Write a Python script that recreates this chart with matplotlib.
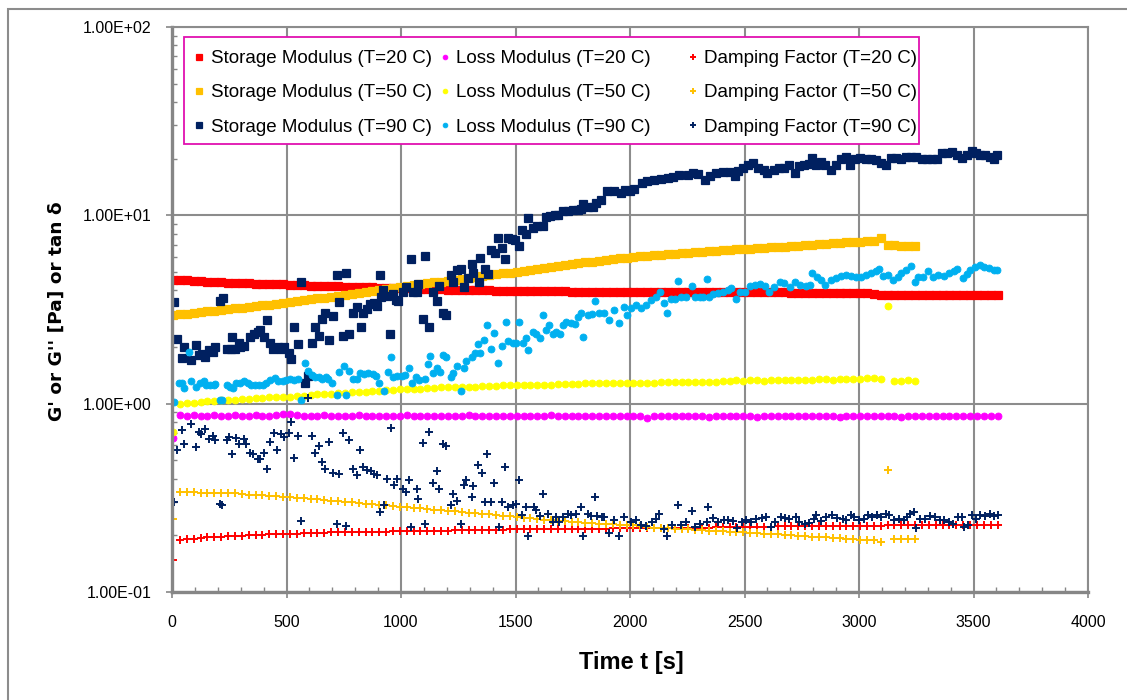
import numpy as np
import matplotlib
matplotlib.use("Agg")
import matplotlib.pyplot as plt
from matplotlib.patches import Rectangle
from matplotlib.ticker import LogLocator, MultipleLocator, NullFormatter

# -----------------------------
# DATA
# -----------------------------
# 20 C and 50 C runs are sampled on a regular clock
t20 = np.arange(5, 3606, 30)
t50 = np.arange(5, 3246, 30)

storage_20 = [
    4.55, 4.53, 4.51, 4.49, 4.46, 4.44, 4.42, 4.40, 4.38, 4.37,
    4.36, 4.35, 4.34, 4.33, 4.32, 4.31, 4.30, 4.28, 4.26, 4.25,
    4.23, 4.22, 4.21, 4.20, 4.19, 4.18, 4.17, 4.16, 4.15, 4.14,
    4.13, 4.12, 4.11, 4.10, 4.09, 4.08, 4.07, 4.06, 4.05, 4.04,
    4.03, 4.02, 4.01, 4.00, 4.00, 3.99, 3.99, 3.98, 3.98, 3.98,
    3.97, 3.97, 3.96, 3.96, 3.96, 3.95, 3.95, 3.95, 3.94, 3.94,
    3.94, 3.94, 3.93, 3.93, 3.93, 3.93, 3.92, 3.92, 3.92, 3.92,
    3.91, 3.91, 3.91, 3.91, 3.91, 3.91, 3.91, 3.90, 3.90, 3.90,
    3.90, 3.90, 3.90, 3.90, 3.90, 3.90, 3.90, 3.90, 3.90, 3.90,
    3.89, 3.89, 3.89, 3.89, 3.89, 3.89, 3.89, 3.89, 3.89, 3.89,
    3.89, 3.89, 3.80, 3.79, 3.79, 3.79, 3.79, 3.79, 3.79, 3.79,
    3.78, 3.78, 3.78, 3.78, 3.78, 3.78, 3.78, 3.78, 3.78, 3.78,
    3.78]

loss_20 = [
    0.66, 0.87, 0.86, 0.87, 0.86, 0.86, 0.87, 0.86, 0.86, 0.87,
    0.86, 0.86, 0.87, 0.86, 0.86, 0.87, 0.88, 0.88, 0.87, 0.86,
    0.86, 0.86, 0.87, 0.86, 0.86, 0.86, 0.86, 0.87, 0.86, 0.86,
    0.86, 0.86, 0.86, 0.86, 0.87, 0.86, 0.86, 0.86, 0.86, 0.86,
    0.86, 0.86, 0.86, 0.87, 0.86, 0.86, 0.86, 0.86, 0.86, 0.86,
    0.86, 0.86, 0.86, 0.86, 0.86, 0.87, 0.86, 0.86, 0.86, 0.86,
    0.86, 0.86, 0.86, 0.86, 0.86, 0.86, 0.86, 0.86, 0.86, 0.84,
    0.86, 0.86, 0.86, 0.86, 0.86, 0.86, 0.86, 0.86, 0.85, 0.86,
    0.86, 0.86, 0.86, 0.86, 0.86, 0.85, 0.86, 0.86, 0.86, 0.86,
    0.86, 0.86, 0.86, 0.86, 0.86, 0.86, 0.86, 0.85, 0.86, 0.86,
    0.86, 0.86, 0.86, 0.86, 0.86, 0.86, 0.85, 0.86, 0.86, 0.86,
    0.86, 0.86, 0.86, 0.86, 0.86, 0.86, 0.86, 0.86, 0.86, 0.86,
    0.86]

damping_20 = [
    0.147, 0.190, 0.191, 0.192, 0.194, 0.195, 0.196, 0.197, 0.198, 0.198,
    0.199, 0.200, 0.201, 0.201, 0.202, 0.202, 0.203, 0.204, 0.204, 0.205,
    0.205, 0.206, 0.206, 0.207, 0.207, 0.207, 0.208, 0.208, 0.208, 0.209,
    0.209, 0.209, 0.210, 0.210, 0.210, 0.211, 0.211, 0.211, 0.212, 0.212,
    0.212, 0.213, 0.213, 0.213, 0.213, 0.214, 0.214, 0.214, 0.214, 0.215,
    0.215, 0.215, 0.215, 0.216, 0.216, 0.216, 0.216, 0.216, 0.217, 0.217,
    0.217, 0.217, 0.217, 0.217, 0.218, 0.218, 0.218, 0.218, 0.218, 0.218,
    0.219, 0.219, 0.219, 0.219, 0.219, 0.220, 0.220, 0.220, 0.220, 0.221,
    0.221, 0.221, 0.221, 0.222, 0.222, 0.222, 0.222, 0.222, 0.223, 0.223,
    0.223, 0.223, 0.223, 0.224, 0.224, 0.224, 0.224, 0.224, 0.225, 0.225,
    0.225, 0.225, 0.225, 0.225, 0.226, 0.226, 0.226, 0.226, 0.226, 0.226,
    0.226, 0.227, 0.227, 0.227, 0.227, 0.227, 0.227, 0.227, 0.228, 0.228,
    0.228]

storage_50 = [
    2.95, 2.98, 3.01, 3.03, 3.06, 3.09, 3.12, 3.15, 3.18, 3.21,
    3.24, 3.27, 3.30, 3.33, 3.36, 3.39, 3.42, 3.46, 3.50, 3.54,
    3.58, 3.62, 3.66, 3.70, 3.74, 3.78, 3.83, 3.88, 3.93, 3.98,
    4.03, 4.07, 4.11, 4.15, 4.20, 4.25, 4.30, 4.35, 4.40, 4.45,
    4.50, 4.55, 4.60, 4.65, 4.70, 4.75, 4.80, 4.86, 4.92, 4.97,
    5.02, 5.08, 5.14, 5.20, 5.26, 5.32, 5.38, 5.44, 5.50, 5.56,
    5.62, 5.68, 5.74, 5.80, 5.86, 5.92, 5.97, 6.01, 6.05, 6.09,
    6.13, 6.17, 6.21, 6.25, 6.29, 6.33, 6.37, 6.41, 6.45, 6.49,
    6.53, 6.57, 6.60, 6.63, 6.66, 6.69, 6.72, 6.75, 6.79, 6.83,
    6.87, 6.91, 6.95, 6.99, 7.03, 7.07, 7.10, 7.14, 7.18, 7.22,
    7.25, 7.28, 7.32, 7.55, 6.95, 6.92, 6.90, 6.89, 6.88]

loss_50 = [
    0.71, 1.00, 1.01, 1.01, 1.02, 1.03, 1.03, 1.04, 1.05, 1.05,
    1.06, 1.06, 1.07, 1.07, 1.08, 1.08, 1.09, 1.09, 1.10, 1.10,
    1.11, 1.12, 1.12, 1.13, 1.14, 1.14, 1.15, 1.16, 1.16, 1.17,
    1.17, 1.18, 1.18, 1.19, 1.19, 1.20, 1.20, 1.21, 1.21, 1.22,
    1.22, 1.22, 1.23, 1.23, 1.23, 1.24, 1.24, 1.24, 1.25, 1.25,
    1.25, 1.25, 1.26, 1.26, 1.26, 1.26, 1.27, 1.27, 1.27, 1.27,
    1.28, 1.28, 1.28, 1.28, 1.28, 1.29, 1.29, 1.29, 1.29, 1.29,
    1.29, 1.30, 1.30, 1.30, 1.31, 1.30, 1.31, 1.31, 1.31, 1.31,
    1.32, 1.32, 1.33, 1.32, 1.33, 1.33, 1.32, 1.33, 1.33, 1.33,
    1.33, 1.34, 1.34, 1.34, 1.35, 1.35, 1.34, 1.35, 1.35, 1.36,
    1.36, 1.37, 1.37, 1.36, 3.30, 1.32, 1.32, 1.33, 1.32]

damping_50 = [
    0.244, 0.338, 0.338, 0.338, 0.337, 0.337, 0.337, 0.336, 0.335, 0.334,
    0.330, 0.328, 0.327, 0.326, 0.324, 0.322, 0.320, 0.318, 0.316, 0.314,
    0.312, 0.310, 0.307, 0.305, 0.303, 0.301, 0.299, 0.297, 0.294, 0.292,
    0.290, 0.288, 0.286, 0.284, 0.282, 0.280, 0.278, 0.276, 0.274, 0.272,
    0.270, 0.268, 0.266, 0.264, 0.262, 0.260, 0.258, 0.256, 0.254, 0.252,
    0.250, 0.248, 0.246, 0.244, 0.242, 0.240, 0.238, 0.237, 0.236, 0.235,
    0.233, 0.232, 0.231, 0.230, 0.229, 0.228, 0.227, 0.226, 0.224, 0.222,
    0.220, 0.219, 0.218, 0.217, 0.216, 0.215, 0.214, 0.213, 0.212, 0.211,
    0.210, 0.209, 0.208, 0.207, 0.206, 0.205, 0.204, 0.203, 0.202, 0.201,
    0.200, 0.199, 0.198, 0.197, 0.196, 0.195, 0.194, 0.193, 0.192, 0.191,
    0.190, 0.189, 0.188, 0.184, 0.447, 0.192, 0.192, 0.191, 0.192]

# 90 C run is noisy, read point by point
t_storage_90 = [
    10, 22, 44, 54, 84, 103, 116, 131, 145, 160,
    177, 189, 208, 222, 240, 259, 262, 276, 291, 298,
    315, 339, 356, 375, 385, 400, 414, 429, 443, 465,
    477, 491, 509, 520, 533, 552, 563, 581, 593, 613,
    625, 640, 654, 669, 686, 702, 720, 731, 746, 760,
    773, 792, 807, 824, 836, 853, 865, 884, 897, 908,
    911, 923, 938, 952, 967, 978, 988, 1007, 1022, 1042,
    1051, 1068, 1076, 1097, 1105, 1124, 1138, 1156, 1167, 1185,
    1196, 1217, 1228, 1246, 1262, 1276, 1294, 1308, 1315, 1341,
    1345, 1366, 1381, 1395, 1410, 1424, 1439, 1456, 1468, 1483,
    1499, 1516, 1530, 1548, 1555, 1577, 1592, 1618, 1632, 1650,
    1672, 1686, 1708, 1730, 1751, 1773, 1788, 1795, 1817, 1839,
    1853, 1875, 1900, 1930, 1959, 1980, 2000, 2018, 2054, 2076,
    2106, 2135, 2164, 2186, 2216, 2252, 2275, 2297, 2326, 2348,
    2377, 2407, 2436, 2458, 2473, 2495, 2517, 2539, 2561, 2583,
    2598, 2627, 2649, 2671, 2693, 2719, 2737, 2759, 2781, 2796,
    2813, 2833, 2852, 2877, 2899, 2921, 2943, 2960, 2982, 3006,
    3031, 3053, 3075, 3097, 3119, 3141, 3163, 3185, 3207, 3229,
    3251, 3273, 3295, 3317, 3339, 3361, 3383, 3405, 3427, 3449,
    3471, 3493, 3510, 3530, 3552, 3574, 3589, 3604]
storage_90 = [
    3.48, 2.20, 1.75, 1.99, 1.70, 2.04, 1.81, 1.83, 1.76, 1.92,
    1.87, 1.99, 3.53, 3.66, 1.94, 1.94, 2.25, 1.94, 2.10, 2.00,
    2.02, 2.27, 2.34, 2.41, 2.46, 2.25, 2.78, 2.09, 1.94, 1.99,
    1.94, 2.00, 1.86, 1.72, 2.54, 2.07, 4.45, 1.29, 1.41, 2.11,
    2.54, 2.30, 2.82, 3.02, 2.18, 2.92, 4.83, 3.48, 2.30, 4.97,
    2.33, 3.02, 3.25, 2.54, 3.02, 3.17, 3.39, 3.44, 3.30, 4.83,
    3.70, 3.99, 3.75, 2.34, 3.83, 3.55, 3.53, 3.93, 4.18, 5.86,
    3.93, 3.93, 4.33, 2.82, 6.05, 2.54, 3.93, 3.53, 4.21, 3.02,
    2.97, 4.83, 4.45, 5.13, 5.17, 4.18, 4.62, 5.53, 4.93, 4.45,
    5.93, 5.17, 4.90, 6.52, 6.31, 7.57, 6.67, 5.86, 7.57, 7.48,
    7.36, 6.89, 8.33, 7.99, 9.70, 8.56, 8.80, 8.80, 9.80, 9.90,
    10.0, 10.0, 10.5, 10.6, 10.7, 10.7, 10.8, 11.5, 11.1, 11.1,
    11.6, 12.0, 13.4, 13.5, 13.2, 13.6, 13.4, 13.8, 14.9, 15.2,
    15.4, 15.6, 15.8, 16.0, 16.3, 16.4, 16.8, 16.5, 15.4, 16.1,
    16.7, 16.9, 16.9, 16.2, 17.2, 17.9, 18.4, 19.0, 17.9, 17.4,
    16.7, 17.4, 17.9, 17.9, 18.4, 16.8, 18.2, 18.6, 18.8, 20.2,
    18.6, 19.2, 18.4, 17.4, 18.6, 19.8, 20.5, 18.4, 19.8, 20.2,
    19.8, 19.8, 19.6, 19.0, 18.4, 20.2, 20.2, 20.0, 20.5, 20.5,
    20.5, 19.8, 20.0, 19.8, 19.8, 21.3, 21.3, 21.7, 21.0, 20.2,
    21.0, 21.9, 21.3, 21.0, 20.8, 20.4, 19.8, 20.8]

t_loss_90 = [
    10, 29, 44, 54, 73, 84, 106, 124, 138, 150,
    164, 182, 189, 208, 218, 240, 254, 266, 280, 295,
    313, 330, 345, 363, 382, 397, 411, 429, 451, 465,
    484, 499, 516, 533, 552, 563, 581, 596, 610, 625,
    640, 654, 671, 683, 698, 720, 731, 749, 760, 775,
    792, 807, 821, 839, 858, 877, 891, 906, 927, 942,
    956, 967, 984, 1003, 1017, 1036, 1047, 1065, 1080, 1105,
    1119, 1127, 1138, 1156, 1170, 1185, 1196, 1217, 1228, 1246,
    1260, 1276, 1286, 1312, 1323, 1337, 1347, 1362, 1376, 1395,
    1407, 1424, 1439, 1458, 1468, 1490, 1504, 1516, 1533, 1548,
    1555, 1577, 1588, 1609, 1618, 1635, 1647, 1664, 1679, 1693,
    1708, 1722, 1744, 1759, 1773, 1788, 1795, 1817, 1836, 1846,
    1865, 1885, 1907, 1930, 1952, 1974, 1985, 2003, 2025, 2047,
    2069, 2091, 2113, 2132, 2150, 2161, 2179, 2195, 2211, 2223,
    2245, 2270, 2282, 2304, 2320, 2338, 2345, 2363, 2385, 2407,
    2426, 2441, 2463, 2480, 2502, 2524, 2546, 2568, 2590, 2608,
    2631, 2656, 2671, 2700, 2722, 2744, 2767, 2784, 2796, 2818,
    2833, 2852, 2877, 2899, 2921, 2943, 2965, 2987, 3009, 3031,
    3053, 3075, 3087, 3104, 3126, 3148, 3170, 3185, 3207, 3229,
    3244, 3258, 3280, 3302, 3325, 3347, 3369, 3391, 3413, 3430,
    3454, 3471, 3486, 3508, 3530, 3545, 3567, 3589, 3604]
loss_90 = [
    1.02, 1.28, 1.29, 1.21, 1.87, 1.32, 1.23, 1.29, 1.32, 1.25,
    1.25, 1.25, 1.27, 1.05, 1.05, 1.25, 1.23, 1.21, 1.28, 1.29,
    1.32, 1.28, 1.25, 1.25, 1.25, 1.25, 1.28, 1.33, 1.37, 1.32,
    1.32, 1.33, 1.35, 1.33, 1.36, 1.05, 1.65, 1.50, 1.42, 1.39,
    1.38, 1.36, 1.39, 1.36, 1.28, 1.11, 1.47, 1.59, 1.11, 1.49,
    1.36, 1.36, 1.46, 1.43, 1.46, 1.43, 1.40, 1.29, 1.17, 1.47,
    1.77, 1.39, 1.40, 1.40, 1.42, 1.54, 1.28, 1.39, 1.33, 1.36,
    1.63, 1.79, 1.46, 1.54, 1.48, 1.81, 1.78, 1.39, 1.46, 1.58,
    1.17, 1.54, 1.69, 1.76, 1.86, 2.07, 1.86, 2.18, 2.61, 1.96,
    2.36, 1.65, 2.03, 2.72, 2.16, 2.10, 2.10, 2.72, 2.10, 2.22,
    1.92, 2.41, 2.34, 2.22, 2.96, 2.46, 2.61, 2.34, 2.41, 2.34,
    2.61, 2.72, 2.69, 2.65, 2.87, 3.02, 2.25, 2.96, 2.99, 3.53,
    3.02, 3.02, 2.78, 3.14, 2.67, 3.25, 2.96, 3.21, 3.34, 3.21,
    3.34, 3.55, 3.70, 3.94, 3.41, 3.02, 3.58, 3.60, 4.50, 3.70,
    3.70, 4.19, 3.70, 3.70, 3.70, 4.58, 3.70, 3.82, 3.86, 3.94,
    4.02, 4.10, 3.58, 3.94, 3.94, 4.22, 4.27, 4.32, 4.22, 3.94,
    4.15, 4.45, 4.36, 4.15, 4.40, 4.27, 4.22, 4.27, 4.93, 4.73,
    4.54, 4.27, 4.54, 4.63, 4.77, 4.83, 4.77, 4.73, 4.69, 4.83,
    4.93, 5.09, 5.18, 4.78, 4.83, 4.54, 4.69, 4.93, 5.14, 5.35,
    4.40, 4.73, 4.73, 5.09, 4.73, 4.83, 4.77, 4.97, 5.09, 5.18,
    4.64, 4.89, 5.14, 5.31, 5.46, 5.30, 5.24, 5.14, 5.14]

t_damping_90 = [
    10, 22, 44, 54, 83, 103, 116, 126, 145, 160,
    177, 189, 208, 219, 240, 251, 262, 280, 294, 313,
    324, 339, 353, 374, 385, 400, 414, 429, 446, 458,
    477, 491, 509, 520, 533, 552, 563, 593, 613, 625,
    640, 654, 669, 686, 701, 720, 731, 746, 760, 773,
    792, 807, 821, 836, 853, 868, 884, 897, 908, 926,
    938, 955, 969, 984, 1007, 1022, 1036, 1042, 1068, 1076,
    1097, 1105, 1124, 1138, 1156, 1167, 1185, 1196, 1217, 1228,
    1246, 1262, 1276, 1283, 1308, 1315, 1337, 1352, 1366, 1376,
    1395, 1407, 1429, 1439, 1456, 1468, 1487, 1501, 1516, 1530,
    1548, 1555, 1580, 1590, 1609, 1618, 1642, 1664, 1676, 1690,
    1708, 1730, 1744, 1763, 1788, 1795, 1817, 1831, 1846, 1856,
    1879, 1885, 1907, 1930, 1951, 1973, 2003, 2025, 2047, 2069,
    2094, 2114, 2128, 2150, 2162, 2183, 2209, 2224, 2246, 2271,
    2286, 2305, 2335, 2339, 2364, 2386, 2409, 2428, 2448, 2468,
    2487, 2507, 2527, 2549, 2575, 2596, 2615, 2634, 2659, 2678,
    2696, 2723, 2740, 2763, 2782, 2803, 2814, 2836, 2855, 2880,
    2903, 2929, 2944, 2965, 2979, 2998, 3021, 3038, 3057, 3080,
    3094, 3117, 3131, 3153, 3176, 3198, 3209, 3224, 3239, 3249,
    3268, 3289, 3309, 3330, 3352, 3372, 3392, 3412, 3434, 3451,
    3460, 3478, 3493, 3511, 3530, 3552, 3574, 3589, 3608]
damping_90 = [
    0.299, 0.566, 0.722, 0.609, 0.777, 0.589, 0.708, 0.688, 0.737, 0.652,
    0.671, 0.639, 0.295, 0.291, 0.644, 0.666, 0.539, 0.660, 0.609, 0.650,
    0.609, 0.550, 0.543, 0.511, 0.511, 0.550, 0.452, 0.626, 0.699, 0.566,
    0.694, 0.666, 0.699, 0.800, 0.517, 0.671, 0.239, 1.076, 0.671, 0.547,
    0.594, 0.491, 0.452, 0.626, 0.429, 0.231, 0.422, 0.699, 0.224, 0.639,
    0.452, 0.417, 0.566, 0.462, 0.447, 0.440, 0.422, 0.417, 0.267, 0.289,
    0.400, 0.746, 0.369, 0.400, 0.354, 0.340, 0.395, 0.222, 0.354, 0.310,
    0.622, 0.229, 0.708, 0.381, 0.440, 0.354, 0.609, 0.594, 0.289, 0.333,
    0.305, 0.231, 0.372, 0.392, 0.318, 0.365, 0.471, 0.426, 0.301, 0.539,
    0.301, 0.381, 0.222, 0.301, 0.462, 0.283, 0.289, 0.293, 0.395, 0.256,
    0.283, 0.198, 0.283, 0.274, 0.253, 0.333, 0.261, 0.236, 0.251, 0.236,
    0.249, 0.261, 0.256, 0.261, 0.283, 0.198, 0.261, 0.253, 0.320, 0.253,
    0.249, 0.249, 0.205, 0.241, 0.198, 0.249, 0.236, 0.241, 0.227, 0.224,
    0.236, 0.243, 0.259, 0.215, 0.198, 0.227, 0.289, 0.227, 0.236, 0.270,
    0.222, 0.229, 0.236, 0.284, 0.246, 0.236, 0.241, 0.241, 0.239, 0.218,
    0.236, 0.241, 0.236, 0.243, 0.246, 0.249, 0.222, 0.236, 0.249, 0.246,
    0.243, 0.249, 0.236, 0.231, 0.233, 0.243, 0.256, 0.239, 0.249, 0.256,
    0.246, 0.243, 0.241, 0.256, 0.251, 0.241, 0.243, 0.256, 0.251, 0.256,
    0.251, 0.259, 0.256, 0.241, 0.243, 0.241, 0.251, 0.261, 0.267, 0.218,
    0.243, 0.243, 0.253, 0.251, 0.241, 0.241, 0.236, 0.229, 0.249, 0.249,
    0.222, 0.227, 0.256, 0.243, 0.256, 0.253, 0.259, 0.253, 0.256]

x_ticks = [0, 500, 1000, 1500, 2000, 2500, 3000, 3500, 4000]
y_ticks = [0.1, 1, 10, 100]
y_tick_labels = ["1.00E-01", "1.00E+00", "1.00E+01", "1.00E+02"]

# -----------------------------
# STYLE
# -----------------------------
RED, ORANGE, NAVY = "#FF0000", "#FFC000", "#002060"
MAGENTA, YELLOW, CYAN = "#FF00FF", "#FFFF00", "#00B0F0"
GRID = "#8C8C8C"
FONT = ["Liberation Sans", "DejaVu Sans"]

plt.rcParams["font.family"] = FONT

W, H = 1127, 700
fig = plt.figure(figsize=(W / 100, H / 100), dpi=100)
fig.patch.set_facecolor("white")
# plot area in pixels: x 172..1088, y 27..592
ax = fig.add_axes([172 / W, 1 - 592 / H, 916 / W, 565 / H])

sq = dict(ls="none", marker="s", ms=5.4, mew=0.9)
ci = dict(ls="none", marker="o", ms=5.0, mew=0.6)
pl = dict(ls="none", marker="+", ms=5.5, mew=1.4)

h = {}
h["s20"], = ax.plot(t20, storage_20, color=RED, **sq, label="Storage Modulus (T=20 C)")
h["l20"], = ax.plot(t20, loss_20, color=MAGENTA, **ci, label="Loss Modulus (T=20 C)")
h["d20"], = ax.plot(t20, damping_20, color=RED, **pl, label="Damping Factor (T=20 C)")
h["s50"], = ax.plot(t50, storage_50, color=ORANGE, **sq, label="Storage Modulus (T=50 C)")
h["l50"], = ax.plot(t50, loss_50, color=YELLOW, **ci, label="Loss Modulus (T=50 C)")
h["d50"], = ax.plot(t50, damping_50, color=ORANGE, **pl, label="Damping Factor (T=50 C)")
h["s90"], = ax.plot(t_storage_90, storage_90, color=NAVY, **sq, label="Storage Modulus (T=90 C)")
h["l90"], = ax.plot(t_loss_90, loss_90, color=CYAN, **ci, label="Loss Modulus (T=90 C)")
h["d90"], = ax.plot(t_damping_90, damping_90, color=NAVY, **pl, label="Damping Factor (T=90 C)")

# axes
ax.set_yscale("log")
ax.set_xlim(0, 4000)
ax.set_ylim(0.1, 100)
ax.set_xticks(x_ticks)
ax.set_xticklabels([str(v) for v in x_ticks])
ax.set_yticks(y_ticks)
ax.set_yticklabels(y_tick_labels)
ax.xaxis.set_minor_locator(MultipleLocator(100))
ax.yaxis.set_minor_locator(LogLocator(base=10, subs=range(2, 10)))
ax.yaxis.set_minor_formatter(NullFormatter())

ax.grid(True, which="major", color=GRID, lw=1.5, zorder=0)
ax.set_axisbelow(True)
for s in ["left", "bottom"]:
    ax.spines[s].set_color("#868686")
    ax.spines[s].set_linewidth(2.4)
for s in ["top", "right"]:
    ax.spines[s].set_color(GRID)
    ax.spines[s].set_linewidth(1.5)

ax.tick_params(which="major", direction="out", length=4.5, width=1.2, color="#868686",
               labelsize=11.5, labelcolor="black")
ax.tick_params(axis="x", which="major", pad=12)
ax.tick_params(axis="y", which="major", pad=10)
ax.tick_params(which="minor", direction="in", length=3.5, width=1.0, color="#868686")

fig.text(57 / W, 1 - 311 / H, "G' or G'' [Pa] or tan \u03b4", rotation=90,
         ha="center", va="center", fontsize=13.3, fontweight="bold", family="DejaVu Sans")
fig.text(631 / W, 1 - 663 / H, "Time t [s]", ha="center", va="center",
         fontsize=17, fontweight="bold")

# legend frame + three columns
ax.add_patch(Rectangle((12 / 916, 1 - 117 / 565), 735 / 916, 107 / 565,
                       transform=ax.transAxes, facecolor="white", edgecolor="#E010B0",
                       lw=1.3, zorder=5))
cols = [["s20", "s50", "s90"], ["l20", "l50", "l90"], ["d20", "d50", "d90"]]
col_x = [0.0237, 0.2919, 0.5627]
for i, (keys, cx) in enumerate(zip(cols, col_x)):
    leg = ax.legend([h[k] for k in keys], [h[k].get_label() for k in keys],
                    loc="upper left", bbox_to_anchor=(cx, 0.959), frameon=False,
                    borderaxespad=0, borderpad=0, handlelength=0.6, handletextpad=0.3,
                    labelspacing=0.91, markerscale=0.68, fontsize=13.5)
    leg.set_zorder(6)
    if i < len(cols) - 1:
        ax.add_artist(leg)

# outer chart frame
fig.add_artist(Rectangle((8 / W, -0.05), 1.2, 1 - 9 / H + 0.05, transform=fig.transFigure,
                         fill=False, edgecolor=GRID, lw=1.5))

fig.savefig("out.png", dpi=100)
